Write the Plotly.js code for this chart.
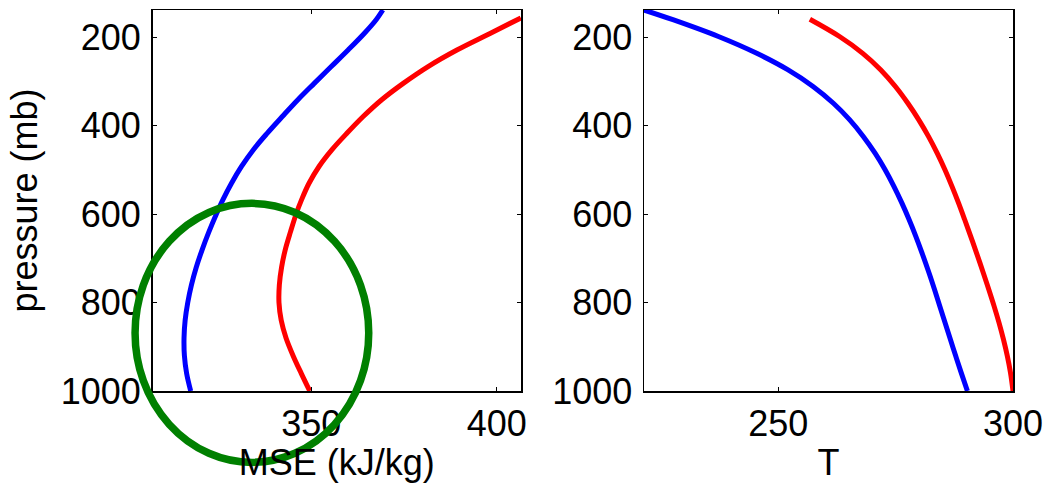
<!DOCTYPE html>
<html>
<head>
<meta charset="utf-8">
<script src="https://cdn.plot.ly/plotly-3.0.1.min.js"></script>
<style>
  html, body { margin: 0; padding: 0; background: #ffffff; }
  #chart { width: 1047px; height: 483px; }
</style>
</head>
<body>
<div id="chart"></div>
<script>
// ---- Data ----
// Left panel: moist static energy (kJ/kg) vs pressure (mb)
const mseBluePressure = [138, 160, 190, 228, 266, 304, 341, 379, 417, 454, 492, 530, 567, 600, 640, 680, 720, 760, 800, 840, 880, 920, 960, 1000];
const mseBlueValues   = [369.3, 367.5, 364.4, 360.0, 355.4, 350.8, 346.4, 342.2, 338.1, 334.4, 331.2, 328.5, 326.2, 324.4, 322.4, 320.6, 319.0, 317.7, 316.7, 316.0, 315.7, 315.8, 316.4, 317.5];

const mseRedPressure = [156, 191, 228, 266, 304, 341, 379, 417, 454, 492, 530, 567, 600, 640, 680, 720, 760, 800, 840, 880, 920, 960, 1000];
const mseRedValues   = [406.5, 398.2, 389.4, 381.5, 374.8, 369.0, 364.0, 359.6, 355.6, 352.1, 349.4, 347.4, 345.9, 344.4, 343.0, 342.0, 341.4, 341.3, 341.9, 343.2, 345.1, 347.3, 349.6];

// Right panel: temperature (K) vs pressure (mb)
const tBluePressure = [138, 160, 198, 236, 273, 311, 349, 386, 424, 462, 499, 537, 575, 612, 650, 688, 733, 771, 808, 846, 884, 921, 959, 1000];
const tBlueValues   = [221.40, 227.56, 237.25, 245.42, 252.01, 257.41, 261.74, 265.18, 268.11, 270.62, 272.73, 274.63, 276.34, 277.86, 279.30, 280.63, 282.12, 283.30, 284.41, 285.55, 286.69, 287.80, 288.98, 290.29];

const tRedPressure = [159, 198, 236, 273, 311, 349, 386, 424, 462, 499, 537, 575, 612, 650, 688, 733, 771, 808, 846, 884, 921, 959, 1000];
const tRedValues   = [256.73, 263.05, 267.99, 271.80, 274.95, 277.61, 279.90, 281.99, 283.85, 285.48, 287.00, 288.41, 289.70, 290.99, 292.24, 293.68, 294.86, 295.97, 297.03, 297.98, 298.79, 299.47, 300.00];

// Highlight ellipse on the left panel (data units: MSE, pressure)
const ellipseCenter = [334.0, 868.5];
const ellipseRadius = [31.5, 293];

// Axis settings
const pressureRange = [1000, 138];
const pressureTicks = [200, 400, 600, 800, 1000];
const mseRange = [307.2, 406.55];
const mseTicks = [350, 400];
const tRange = [221.4, 300];
const tTicks = [250, 300];

// ---- Chart ----
const FONT = {family: '"Liberation Sans", Arial, Helvetica, sans-serif', size: 36, color: '#000000'};

function line(x, y, color, xa, ya) {
  return {
    type: 'scatter', mode: 'lines', x: x, y: y, xaxis: xa, yaxis: ya,
    line: {color: color, width: 5, shape: 'spline', smoothing: 1},
    hoverinfo: 'skip', showlegend: false
  };
}

const traces = [
  line(mseBlueValues, mseBluePressure, '#0000ff', 'x', 'y'),
  line(mseRedValues, mseRedPressure, '#ff0000', 'x', 'y'),
  line(tBlueValues, tBluePressure, '#0000ff', 'x2', 'y2'),
  line(tRedValues, tRedPressure, '#ff0000', 'x2', 'y2')
];

function axisBase() {
  return {
    showline: true, mirror: 'ticks', linecolor: '#000000', linewidth: 1.5,
    ticks: 'inside', ticklen: 4, tickwidth: 1, tickcolor: '#000000',
    showgrid: false, zeroline: false, tickfont: FONT, fixedrange: true
  };
}

// ellipse converted from data units to axis-domain fractions
const xSpan = mseRange[1] - mseRange[0];
const ySpan = pressureRange[0] - pressureRange[1];
const ex0 = (ellipseCenter[0] - ellipseRadius[0] - mseRange[0]) / xSpan;
const ex1 = (ellipseCenter[0] + ellipseRadius[0] - mseRange[0]) / xSpan;
const ey0 = (pressureRange[0] - (ellipseCenter[1] + ellipseRadius[1])) / ySpan;
const ey1 = (pressureRange[0] - (ellipseCenter[1] - ellipseRadius[1])) / ySpan;

const layout = {
  width: 1047, height: 483,
  margin: {l: 0, r: 0, t: 10, b: 92},
  paper_bgcolor: '#ffffff', plot_bgcolor: '#ffffff',
  font: FONT,
  showlegend: false,
  xaxis: Object.assign(axisBase(), {
    domain: [152.5 / 1047, 521 / 1047], anchor: 'y',
    range: mseRange, tickvals: mseTicks, ticktext: mseTicks.map(String),
    ticklabelstandoff: 0,
    title: {text: 'MSE (kJ/kg)', font: FONT, standoff: 16}
  }),
  yaxis: Object.assign(axisBase(), {
    domain: [0, 1], anchor: 'x',
    range: pressureRange, tickvals: pressureTicks, ticktext: pressureTicks.map(String),
    ticklabelstandoff: 3,
    title: {text: 'pressure (mb)', font: FONT, standoff: 12}
  }),
  xaxis2: Object.assign(axisBase(), {
    domain: [644 / 1047, 1013 / 1047], anchor: 'y2',
    range: tRange, tickvals: tTicks, ticktext: tTicks.map(String),
    ticklabelstandoff: 0,
    title: {text: 'T', font: FONT, standoff: 16}
  }),
  yaxis2: Object.assign(axisBase(), {
    domain: [0, 1], anchor: 'x2',
    range: pressureRange, tickvals: pressureTicks, ticktext: pressureTicks.map(String),
    ticklabelstandoff: 3
  }),
  shapes: [{
    type: 'circle', xref: 'x domain', yref: 'y domain',
    x0: ex0, x1: ex1, y0: ey0, y1: ey1,
    line: {color: '#008000', width: 7.5}, layer: 'above'
  }]
};

Plotly.newPlot('chart', traces, layout, {staticPlot: true, displayModeBar: false});
</script>
</body>
</html>
